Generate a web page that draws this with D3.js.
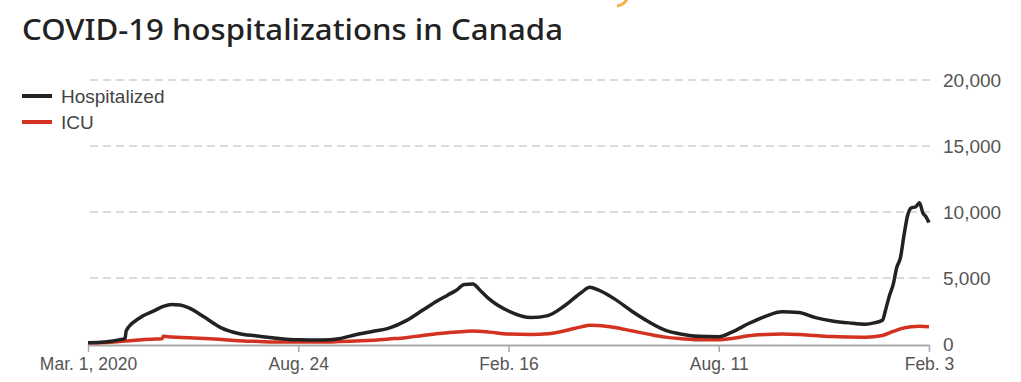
<!DOCTYPE html>
<html lang="en">
<head>
<meta charset="UTF-8">
<title>COVID-19 hospitalizations in Canada</title>
<script src="https://cdn.jsdelivr.net/npm/d3@7"></script>
<style>
    body {
        margin: 0;
        padding: 0;
        background: #fff;
        font-family: "Liberation Sans", Arial, sans-serif;
    }
    .title {
        font-family: "Noto Sans", Lato, sans-serif;
        font-weight: 500;
        fill: #222;
    }
    .grid line {
        stroke: #d0d0d0;
        stroke-width: 1.5;
        stroke-dasharray: 8, 5;
    }
</style>
</head>
<body>
<div id="chart"></div>

<script>
    // tick labels
    var xTickDates = ["2020-03-01", "2020-08-24", "2021-02-16", "2021-08-11", "2022-02-03"];
    var xTickLabels = ["Mar. 1, 2020", "Aug. 24", "Feb. 16", "Aug. 11", "Feb. 3"];
    var yTicks = [0, 5000, 10000, 15000, 20000];

    // Hospitalized
    var hospDates = [
        "2020-03-01", "2020-03-15", "2020-03-29", "2020-04-01", "2020-04-02", "2020-04-12",
        "2020-04-26", "2020-05-03", "2020-05-10", "2020-05-17", "2020-05-24", "2020-06-07",
        "2020-06-21", "2020-07-05", "2020-07-19", "2020-08-02", "2020-08-24", "2020-09-13",
        "2020-09-27", "2020-10-11", "2020-10-25", "2020-11-08", "2020-11-22", "2020-12-06",
        "2020-12-20", "2020-12-27", "2021-01-03", "2021-01-10", "2021-01-17", "2021-01-24",
        "2021-01-31", "2021-02-16",
        "2021-03-07", "2021-03-21", "2021-04-04", "2021-04-18", "2021-04-25", "2021-05-02",
        "2021-05-16", "2021-05-30", "2021-06-13", "2021-06-27", "2021-07-11", "2021-07-25",
        "2021-08-11", "2021-08-22", "2021-09-05", "2021-09-19", "2021-10-03", "2021-10-17",
        "2021-10-31", "2021-11-14", "2021-11-28", "2021-12-12", "2021-12-19", "2021-12-26",
        "2021-12-29", "2022-01-01", "2022-01-04", "2022-01-07", "2022-01-10", "2022-01-13",
        "2022-01-16", "2022-01-19", "2022-01-23", "2022-01-26", "2022-01-29", "2022-01-31",
        "2022-02-03"
    ];
    var hospValues = [
        100, 150, 350, 420, 1000, 1900,
        2550, 2850, 3000, 2950, 2750, 2000,
        1200, 800, 620, 480, 320, 300,
        400, 700, 950, 1200, 1750, 2550,
        3350, 3700, 4050, 4500, 4550, 4000,
        3400, 2500,
        2000, 2150, 2900, 3900, 4300, 4100,
        3400, 2500, 1700, 1050, 740, 580,
        550, 900, 1550, 2100, 2450, 2380,
        2000, 1750, 1600, 1500, 1600, 1800,
        2700, 3700, 4500, 5800, 6500, 8200,
        9700, 10300, 10400, 10700, 9900, 9700,
        9200
    ];

    // ICU
    var icuDates = [
        "2020-03-01", "2020-03-15", "2020-03-29", "2020-04-12", "2020-04-26", "2020-05-02",
        "2020-05-03", "2020-05-10", "2020-05-24", "2020-06-07", "2020-06-21", "2020-07-05",
        "2020-07-19", "2020-08-02", "2020-08-24", "2020-09-13", "2020-09-27", "2020-10-11",
        "2020-10-25", "2020-11-08", "2020-11-22", "2020-12-06", "2020-12-20", "2021-01-03",
        "2021-01-17", "2021-01-31", "2021-02-16", "2021-03-07", "2021-03-21", "2021-04-04",
        "2021-04-18", "2021-04-25", "2021-05-02", "2021-05-16", "2021-05-30", "2021-06-13",
        "2021-06-27", "2021-07-11", "2021-07-25", "2021-08-11", "2021-08-22", "2021-09-05",
        "2021-09-19", "2021-10-03", "2021-10-17", "2021-10-31", "2021-11-14", "2021-11-28",
        "2021-12-12", "2021-12-26", "2022-01-04", "2022-01-10", "2022-01-19", "2022-01-26",
        "2022-02-03"
    ];
    var icuValues = [
        100, 120, 200, 300, 380, 400,
        580, 530, 480, 420, 340, 250,
        200, 160, 150, 150, 180, 230,
        280, 380, 480, 650, 800, 900,
        980, 900, 750, 720, 780, 1000,
        1300, 1420, 1400, 1250, 1000, 750,
        520, 400, 320, 320, 420, 620,
        720, 760, 720, 640, 560, 530,
        520, 650, 950, 1150, 1300, 1350,
        1300
    ];

    var seriesNames = ["Hospitalized", "ICU"];
    var seriesColors = ["#222222", "#d2321f"];

    var parse = d3.timeParse("%Y-%m-%d");
    var hospData = hospDates.map((d, i) => ({ date: parse(d), value: hospValues[i] }));
    var icuData = icuDates.map((d, i) => ({ date: parse(d), value: icuValues[i] }));

    var svgWidth = 1021;
    var svgHeight = 382;

    var svg = d3.select("#chart")
        .append("svg")
        .attr("width", svgWidth)
        .attr("height", svgHeight);

    // bit of the cropped logo at the top edge
    svg.append("path")
        .attr("d", "M617,6 Q624,5 627,-1")
        .attr("fill", "none")
        .attr("stroke", "#f6b04a")
        .attr("stroke-width", 3);

    // title
    svg.append("text")
        .attr("class", "title")
        .attr("x", 22)
        .attr("y", 40)
        .attr("font-size", "28px")
        .attr("textLength", 541)
        .attr("lengthAdjust", "spacingAndGlyphs")
        .text("COVID-19 hospitalizations in Canada");

    var x = d3.scaleTime()
        .domain([parse(xTickDates[0]), parse(xTickDates[xTickDates.length - 1])])
        .range([88, 929]);

    var y = d3.scaleLinear()
        .domain([0, 20000])
        .range([344, 80]);

    // dashed gridlines
    svg.append("g")
        .attr("class", "grid")
        .selectAll("line")
        .data(yTicks.filter(d => d > 0))
        .enter().append("line")
        .attr("x1", 90)
        .attr("x2", 930)
        .attr("y1", d => y(d))
        .attr("y2", d => y(d));

    // y labels on the right
    var yAxis = svg.append("g")
        .attr("transform", "translate(930,0)")
        .call(d3.axisRight(y).tickValues(yTicks).tickSize(0).tickPadding(13)
            .tickFormat(d3.format(",")));
    yAxis.select(".domain").remove();
    yAxis.selectAll("text")
        .attr("fill", "#555")
        .attr("font-size", "19px")
        .attr("font-family", "Liberation Sans, Arial, sans-serif");

    // x axis
    var xAxis = svg.append("g")
        .attr("transform", "translate(0,345)")
        .call(d3.axisBottom(x)
            .tickValues(xTickDates.map(parse))
            .tickSize(7)
            .tickSizeOuter(0)
            .tickPadding(6)
            .tickFormat((d, i) => xTickLabels[i]));
    xAxis.select(".domain").attr("stroke", "#aaa").attr("stroke-width", 2);
    xAxis.selectAll(".tick line").attr("stroke", "#aaa").attr("stroke-width", 1.5);
    xAxis.selectAll("text")
        .attr("fill", "#555")
        .attr("font-size", "17.5px")
        .attr("font-family", "Liberation Sans, Arial, sans-serif");

    var line = d3.line()
        .x(d => x(d.date))
        .y(d => y(d.value))
        .curve(d3.curveMonotoneX);

    svg.append("path")
        .datum(icuData)
        .attr("fill", "none")
        .attr("stroke", seriesColors[1])
        .attr("stroke-width", 3.5)
        .attr("stroke-linejoin", "round")
        .attr("d", line);

    svg.append("path")
        .datum(hospData)
        .attr("fill", "none")
        .attr("stroke", seriesColors[0])
        .attr("stroke-width", 3.5)
        .attr("stroke-linejoin", "round")
        .attr("d", line);

    // legend
    var legend = svg.append("g")
        .attr("transform", "translate(22,96)");

    var entry = legend.selectAll("g")
        .data(seriesNames)
        .enter().append("g")
        .attr("transform", (d, i) => "translate(0," + i * 26 + ")");

    entry.append("line")
        .attr("x1", 0)
        .attr("x2", 30)
        .attr("stroke", (d, i) => seriesColors[i])
        .attr("stroke-width", 4);

    entry.append("text")
        .attr("x", 39)
        .attr("dy", "0.35em")
        .attr("fill", "#444")
        .attr("font-size", "19px")
        .text(d => d);
</script>
</body>
</html>
